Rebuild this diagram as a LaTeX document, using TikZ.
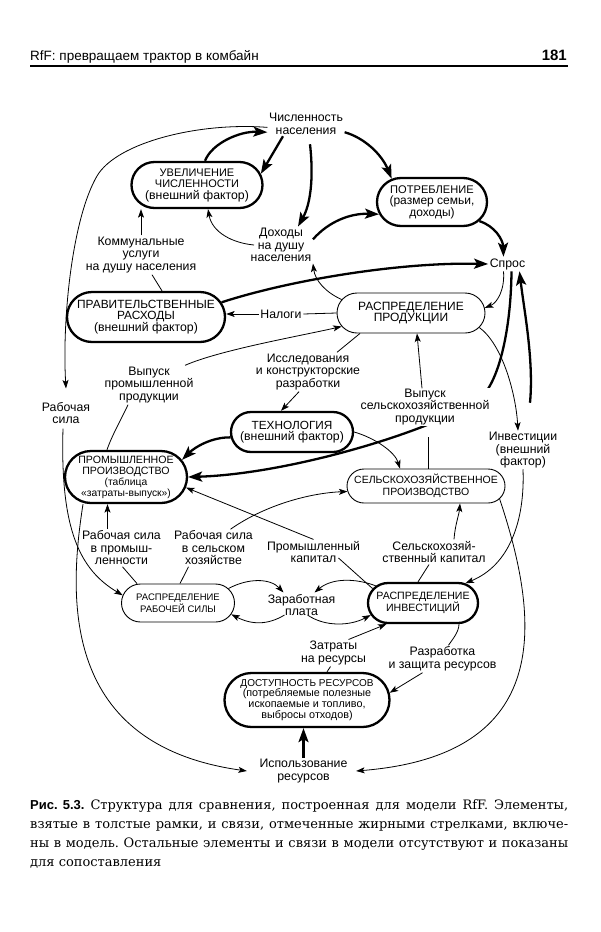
\documentclass[tikz,border=0pt]{standalone}
\usepackage{fontspec}
\setmainfont{Liberation Sans}
\newfontfamily\capserif{DejaVu Serif}
\usetikzlibrary{arrows.meta,shapes.misc}
\pgfdeclarelayer{bg}
\pgfdeclarelayer{under}
\pgfsetlayers{bg,under,main}
\newcommand{\fz}[2]{\fontsize{#1}{#2}\selectfont}
\tikzset{
  lab/.style={font=\fz{12.3}{12.5}, align=center, inner sep=1.5pt},
  tbox/.style={rounded rectangle, draw, line width=2.3pt, align=center, inner sep=0pt},
  nbox/.style={rounded rectangle, draw, line width=0.9pt, align=center, inner sep=0pt},
  tarr/.style={line width=2.3pt, -{Stealth[length=14pt,width=10pt,inset=3pt]}},
  narr/.style={line width=0.8pt, -{Stealth[length=8.5pt,width=6pt,inset=2pt]}},
  nln/.style={line width=0.8pt},
  capline/.style={anchor=base west, inner sep=0pt, font=\capserif\fz{13}{19}}
}
\begin{document}
\frenchspacing
\begin{tikzpicture}[x=1pt,y=-1pt]
\begin{pgfonlayer}{bg}
\fill[white] (0,0) rectangle (600,932);
\end{pgfonlayer}
\useasboundingbox (0,0) rectangle (600,932);

% header
\node[anchor=base west, inner sep=0pt, font=\fz{13.5}{15}] (hdr) at (30,60) {RfF: превращаем трактор в комбайн};
\node[anchor=base east, inner sep=0pt, font=\fz{15}{15}\bfseries] (pg) at (567,60) {181};
\draw[line width=1.2pt] ([yshift=-6pt]hdr.base west) -- ([xshift=1pt,yshift=-6pt]pg.base east);

% nodes
\node[lab] (num) at (306,124) {Численность\\населения};
\node[tbox, minimum width=131pt, minimum height=46pt, font=\fz{12.3}{11.5}] (uvel) at (197,185)
  {{\fz{11}{11.5}УВЕЛИЧЕНИЕ}\\{\fz{11}{11.5}ЧИСЛЕННОСТИ}\\(внешний фактор)};
\node[tbox, minimum width=110pt, minimum height=48pt, font=\fz{12}{11.5}] (potr) at (432,202)
  {{\fz{11.1}{11.5}ПОТРЕБЛЕНИЕ}\\(размер семьи,\\доходы)};
\node[lab] (doh) at (281,245) {Доходы\\на душу\\населения};
\node[lab] (komm) at (141,255) {Коммунальные\\услуги\\на душу населения};
\node[lab] (spros) at (507.5,264) {Спрос};
\node[tbox, minimum width=158pt, minimum height=50pt, font=\fz{12.3}{11.5}] (prav) at (146,317)
  {{\fz{11.9}{11.5}ПРАВИТЕЛЬСТВЕННЫЕ}\\{\fz{11.9}{11.5}РАСХОДЫ}\\(внешний фактор)};
\node[lab] (nal) at (281,314) {Налоги};
\node[nbox, minimum width=148pt, minimum height=40pt, font=\fz{12}{11.5}] (rprod) at (411,313)
  {РАСПРЕДЕЛЕНИЕ\\ПРОДУКЦИИ};
\node[lab] (vprom) at (149,385) {Выпуск\\промышленной\\продукции};
\node[lab] (issl) at (308,372) {Исследования\\и конструкторские\\разработки};
\node[lab] (rab) at (66,413) {Рабочая\\сила};
\node[lab, fill=white, inner sep=0.5pt] (vsel) at (425,407) {Выпуск\\сельскохозяйственной\\продукции};
\node[tbox, minimum width=122pt, minimum height=40pt, font=\fz{12.3}{11.5}] (tech) at (292,432)
  {{\fz{11.8}{11.5}ТЕХНОЛОГИЯ}\\(внешний фактор)};
\node[lab, font=\fz{12.3}{11.5}] (inv) at (523,450) {Инвестиции\\(внешний\\фактор)};
\node[tbox, minimum width=122pt, minimum height=52pt, font=\fz{10.3}{11}] (prom) at (126,477)
  {{\fz{10.6}{11}ПРОМЫШЛЕННОЕ}\\{\fz{10.6}{11}ПРОИЗВОДСТВО}\\(таблица\\«затраты-выпуск»)};
\node[nbox, minimum width=158pt, minimum height=34pt, font=\fz{10.5}{11.5}] (sel) at (426,486)
  {СЕЛЬСКОХОЗЯЙСТВЕННОЕ\\ПРОИЗВОДСТВО};
\node[lab] (rsprom) at (121.5,548) {Рабочая сила\\в промыш-\\ленности};
\node[lab] (rssel) at (213.5,548) {Рабочая сила\\в сельском\\хозяйстве};
\node[lab] (pkap) at (313.5,552) {Промышленный\\капитал};
\node[lab] (skap) at (434,552) {Сельскохозяй-\\ственный капитал};
\node[nbox, minimum width=113pt, minimum height=38pt, font=\fz{9.5}{11.5}] (rrab) at (178,603)
  {РАСПРЕДЕЛЕНИЕ\\РАБОЧЕЙ СИЛЫ};
\node[lab] (zp) at (301.5,605) {Заработная\\плата};
\node[tbox, minimum width=110pt, minimum height=40pt, font=\fz{10.6}{11.5}] (rinv) at (423,603)
  {РАСПРЕДЕЛЕНИЕ\\ИНВЕСТИЦИЙ};
\node[lab] (zatr) at (333.5,653) {Затраты\\на ресурсы};
\node[lab] (razr) at (442.5,659) {Разработка\\и защита ресурсов};
\node[tbox, minimum width=165pt, minimum height=54pt, font=\fz{10.8}{10.8}] (dost) at (307,700)
  {{\fz{10}{10.8}ДОСТУПНОСТЬ РЕСУРСОВ}\\(потребляемые полезные\\ископаемые и топливо,\\выбросы отходов)};
\node[lab] (isp) at (303.5,771) {Использование\\ресурсов};

% thick connectors
\draw[tarr] ([xshift=-23pt]num.south) -- (uvel.10);
\draw[tarr] ([xshift=8pt]uvel.north) .. controls (212,143) and (240,131) .. (num.192);
\draw[tarr] (num.-12) .. controls (365,138) and (382,155) .. (potr.150);
\draw[tarr] ([xshift=4pt,yshift=-8pt]num.south) .. controls (314,180) and (310,205) .. ([xshift=17pt]doh.north);
\draw[tarr] (doh.10) .. controls (328,222) and (350,213) .. (potr.193);
\draw[tarr] (prav.11) .. controls (290,280) and (400,262) .. (spros.west);
\draw[tarr] (potr.-22) .. controls (495,226) and (503,240) .. ([xshift=-4pt]spros.north);
\begin{pgfonlayer}{under}
\draw[tarr] ([xshift=4pt]spros.south) .. controls (511,330) and (498.5,385.7) .. (478,400)
  .. controls (432,431) and (290,474) .. (prom.east);
\end{pgfonlayer}
\draw[tarr] ([xshift=7pt,yshift=28pt]inv.north) .. controls (534,360) and (524,310) .. ([xshift=12pt]spros.south);
\draw[tarr] (tech.185) .. controls (212,437) and (195,447) .. (prom.17);
\draw[tarr] (isp.north) -- (isp.north |- dost.south);

% thin connectors
\draw[narr] (num.185) .. controls (200,122) and (117,142) .. (97,176)
  .. controls (72,219) and (62,320) .. ([yshift=12pt]rab.north);
\draw[narr] ([xshift=-3pt,yshift=-3pt]rab.south) .. controls (60,530) and (80,570) .. (rrab.172);
\draw[narr] ([xshift=5pt]doh.west) .. controls (232,243) and (212,232) .. ([xshift=11pt]uvel.south);
\draw[narr] (komm.north) -- (komm.north |- uvel.south);
\draw[nln] ([xshift=16pt]prav.north) -- ([xshift=11pt]komm.south);
\draw[narr] ([xshift=-4pt]spros.south) .. controls (505,290) and (497,303) .. (rprod.4);
\draw[narr] (rprod.169) .. controls (325,292) and (315,280) .. (doh.south east);
\draw[nln] (rprod.west) -- (nal.east);
\draw[narr] (nal.west) -- (nal.west -| prav.east);
\draw[narr] ([xshift=-10pt]vprom.north east) .. controls (220,350) and (300,336) .. (rprod.191);
\draw[nln] ([xshift=-19pt]prom.north) .. controls (112,435) and (122,418) .. ([xshift=-21pt]vprom.south);
\draw[narr] ([xshift=-9pt]issl.south) -- ([xshift=-11pt]tech.north);
\draw[nln] ([xshift=-51pt]rprod.south) -- ([xshift=29pt]issl.north);
\draw[narr] ([xshift=-3pt]vsel.north) -- ([xshift=6pt]rprod.south);
\draw[nln] ([xshift=2pt]sel.north) -- ([xshift=3pt,yshift=-11pt]vsel.south);
\draw[narr] (rprod.-12) .. controls (503,345) and (516,395) .. ([xshift=-5pt]inv.north);
\draw[narr] (tech.east) .. controls (375,438) and (395,452) .. ([xshift=-26pt]sel.north);
\draw[narr] ([xshift=17pt]rssel.north) .. controls (265,505) and (310,493) .. (sel.184);
\draw[nln] ([xshift=2pt]rrab.north) -- ([xshift=-25pt]rssel.south);
\draw[nln] ([xshift=-41pt]rrab.north) -- ([xshift=1pt]rsprom.south);
\draw[narr] ([xshift=-14pt]rsprom.north) -- ([xshift=-14pt]rsprom.north |- prom.south);
\draw[nln] (rinv.164) -- ([xshift=25pt,yshift=-6pt]pkap.center);
\draw[narr] (pkap.north) -- (prom.-10);
\draw[nln] ([xshift=-5pt]rinv.north) -- ([xshift=-5pt]skap.south);
\draw[narr] ([xshift=20pt]skap.north) .. controls (455,525) and (459,515) .. ([xshift=34pt]sel.south);
\draw[narr] (inv.south) .. controls (525,520) and (510,565) .. (rinv.25);
\draw[narr] (rrab.16) .. controls (248,578) and (270,578) .. ([xshift=-18pt]zp.north);
\draw[narr] ([xshift=-17pt,yshift=-10pt]zp.center) .. controls (268,625) and (252,625) .. (rrab.-12);
\draw[narr] (rinv.160) .. controls (355,578) and (332,578) .. ([xshift=13pt]zp.north);
\draw[narr] ([xshift=6pt,yshift=-10pt]zp.center) .. controls (325,627) and (350,626) .. (rinv.193);
\draw[narr] ([xshift=15pt]zatr.north) -- (rinv.210);
\draw[nln] ([xshift=20pt]dost.north) -- ([xshift=-3pt]zatr.south);
\draw[nln] ([xshift=36pt]rinv.south) .. controls (459,632) and (452,640) .. ([xshift=6pt]razr.north);
\draw[narr] ([xshift=-20pt]razr.south) -- (dost.5);
\draw[narr] ([xshift=-43pt]prom.south) .. controls (68,600) and (62,745) .. ([xshift=-11pt]isp.west);
\draw[narr] (sel.-10) .. controls (540,620) and (555,755) .. ([xshift=7pt]isp.east);

% caption
\node[capline] (c1) at (30,809) {\makebox[538pt][s]{{\rmfamily\bfseries Рис. 5.3.} Структура для сравнения, построенная для модели RfF. Элементы,}};
\node[capline] (c2) at (30,828) {\makebox[538pt][s]{взятые в толстые рамки, и связи, отмеченные жирными стрелками, включе-}};
\node[capline] (c3) at (30,847) {\makebox[538pt][s]{ны в модель. Остальные элементы и связи в модели отсутствуют и показаны}};
\node[capline] (c4) at (30,866) {для сопоставления};
\end{tikzpicture}
\end{document}
